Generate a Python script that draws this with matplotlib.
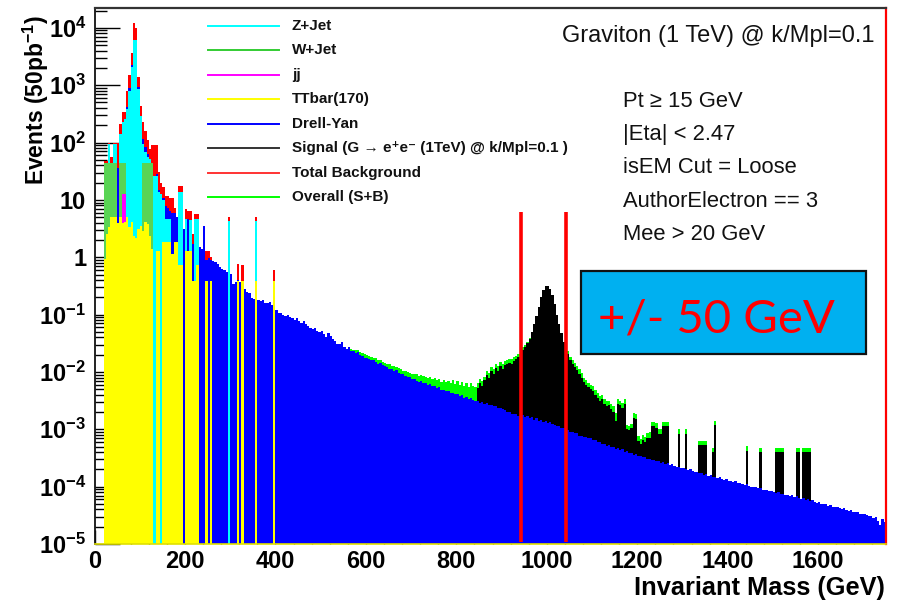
import numpy as np
import matplotlib
matplotlib.use("Agg")
import matplotlib.pyplot as plt
from matplotlib.lines import Line2D
from matplotlib.patches import Rectangle
from matplotlib.ticker import FixedLocator, FixedFormatter, MultipleLocator, NullFormatter

plt.rcParams["font.family"] = ["Liberation Sans", "DejaVu Sans"]
plt.rcParams["mathtext.fontset"] = "custom"
plt.rcParams["mathtext.rm"] = "Liberation Sans"
plt.rcParams["mathtext.bf"] = "Liberation Sans:bold"
plt.rcParams["mathtext.it"] = "Liberation Sans:italic"

# ---------------------------------------------------------------------------
# Binning: 5 GeV bins of invariant mass from 20 to 1750 GeV
# ---------------------------------------------------------------------------
BIN = 5
edges = np.arange(20, 1750 + BIN, BIN)
nbins = len(edges) - 1

# All series are log10(events / bin); None marks an empty bin.
# Values are the stacked heights as drawn (each includes what lies beneath).

TTBAR_START = 20
ttbar = [
    -0.03, 0.40, 0.52, 0.70, 0.70, 0.70, 0.60, 0.70, 0.60, 0.62,
    0.70, 0.52, 0.62, 0.37, 0.34, 0.50, 0.55, 0.45, 0.62, 0.58,
    0.37, 0.15, None, 0.11, 0.11, None, 0.26, 0.26, 0.26, 0.26,
    0.06, 0.26, 0.26, -0.13, -0.13, None, 0.11, 0.11, 0.11, -0.42,
    -0.42, -0.13, None, None, None, -0.41, None, -0.41, None, None,
    None, None, None, None, None, None, None, None, None, -0.41,
    None, -0.41, None, None, None, None, None, -0.41, None, None,
    None, None, None, None, None, -0.41,
]

JJ_START = 60
jj = [1.10, 1.10]

WJET_START = 20
wjet = [
    1.65, 1.65, 1.65, 1.65, 1.65, 1.65, None, 1.65, 1.65, 1.65,
    None, None, None, None, None, None, None,
    1.65, 1.65, 1.65, 1.65, 1.65,
]

ZJET_START = 30
zjet = [
    1.97, None, 1.97, 1.97, None, 2.15, 2.35, 2.41, 2.58, 2.90,
    3.31, 3.79, 3.79, 2.93, 2.47, 1.98, 1.83, 1.74, 1.72, 1.50,
    1.42, 1.42, 1.13, 1.10, 0.99, 0.67, 0.67, 0.67, None, None,
    None, 1.13, 1.13, None, 0.67, None, 0.65, None, 0.66, 0.66,
    None, None, None, None, None, None, None, None, None, None,
    None, None, None, 0.63, None, None, None, None, None, None,
    None, None, None, None, None, 0.63,
]

DY_START = 50
drell_yan = [
    1.55, None, None, None, 2.62, 2.95, 3.35, None, None, 2.97,
    None, 2.06, 1.92, 1.80, None, None, None, 1.45, 1.18, None,
    1.04, 0.90, 0.85, 0.80, 0.78, 0.78, 0.70, None, None, 0.50,
    None, 0.67, None, 0.23, None, None,
    0.17, 0.15, 0.55, -0.04, -0.02, -0.05, -0.06, -0.09, -0.11, -0.17,
    -0.20, -0.23, -0.25, -0.29, -0.30, -0.47, -0.44, -0.40, -0.43, -0.41,
    -0.56, -0.60, -0.63, -0.71, -0.72, -0.70, -0.75, -0.77, -0.75, -0.79,
    -0.80, -0.78, -0.83, -0.90, -0.92, -0.97, -0.98, -1.01, -1.02, -1.00,
    -1.05, -1.06, -1.09, -1.06, -1.11, -1.14, -1.11, -1.17, -1.20, -1.23,
    -1.25, -1.23, -1.29, -1.30, -1.28, -1.33, -1.39, -1.32, -1.37, -1.43,
    -1.46, -1.51, -1.52, -1.48, -1.56, -1.60, -1.57, -1.63, -1.64, -1.67,
    -1.66, -1.71, -1.72, -1.75, -1.75, -1.78, -1.80, -1.80, -1.83, -1.86,
    -1.84, -1.88, -1.90, -1.91, -1.94, -1.95, -1.98, -1.97, -2.01, -2.03,
    -2.04, -2.07, -2.08, -2.09, -2.13, -2.12, -2.15, -2.17, -2.16, -2.20,
    -2.20, -2.23, -2.21, -2.25, -2.25, -2.28, -2.27, -2.31, -2.31, -2.34,
    -2.33, -2.36, -2.37, -2.39, -2.38, -2.42, -2.41, -2.45, -2.44, -2.47,
    -2.46, -2.49, -2.50, -2.51, -2.54, -2.53, -2.56, -2.55, -2.58, -2.57,
    -2.60, -2.59, -2.63, -2.62, -2.65, -2.66, -2.69, -2.69, -2.73, -2.74,
    -2.73, -2.76, -2.77, -2.75, -2.79, -2.76, -2.81, -2.79, -2.84, -2.80,
    -2.86, -2.83, -2.87, -2.85, -2.89, -2.88, -2.91, -2.92, -2.94, -2.95,
    -2.97, -2.97, -3.01, -3.01, -3.04, -3.04, -3.07, -3.07, -3.11, -3.11,
    -3.14, -3.13, -3.16, -3.16, -3.19, -3.19, -3.23, -3.22, -3.26, -3.25,
    -3.29, -3.28, -3.31, -3.30, -3.34, -3.33, -3.36, -3.35, -3.39, -3.38,
    -3.41, -3.42, -3.44, -3.43, -3.46, -3.47, -3.49, -3.48, -3.52, -3.51,
    -3.53, -3.54, -3.56, -3.55, -3.58, -3.57, -3.60, -3.59, -3.62, -3.61,
    -3.64, -3.65, -3.66, -3.68, -3.67, -3.70, -3.71, -3.70, -3.73, -3.75,
    -3.74, -3.77, -3.76, -3.79, -3.78, -3.81, -3.80, -3.83, -3.84, -3.85,
    -3.84, -3.87, -3.88, -3.87, -3.90, -3.91, -3.92, -3.91, -3.94, -3.93,
    -3.96, -3.97, -3.96, -3.99, -4.00, -4.01, -4.00, -4.03, -4.02, -4.05,
    -4.06, -4.05, -4.08, -4.07, -4.10, -4.11, -4.10, -4.13, -4.12, -4.14,
    -4.15, -4.16, -4.15, -4.18, -4.17, -4.20, -4.21, -4.20, -4.23, -4.22,
    -4.25, -4.24, -4.27, -4.28, -4.27, -4.30, -4.31, -4.30, -4.33, -4.32,
    -4.35, -4.36, -4.35, -4.38, -4.39, -4.38, -4.41, -4.42, -4.41, -4.44,
    -4.45, -4.44, -4.47, -4.48, -4.47, -4.50, -4.52, -4.51, -4.55, -4.53,
    -4.60, -4.66, -4.56, -4.62,
]

SIGNAL_START = 845
signal = [
    -2.28, -2.20, -2.25, -2.14, -2.06, -2.10, -1.99, -2.03, -1.93, -1.98,
    -1.90, -1.95, -1.88, -1.86, -1.85, -1.86, -1.81, -1.78, -1.74, -1.67,
    -1.61, -1.57, -1.50, -1.42, -1.30, -1.16, -1.03, -0.86, -0.70, -0.57,
    -0.50, -0.50, -0.56, -0.66, -0.82, -1.00, -1.17, -1.32, -1.48, -1.60,
    -1.69, -1.80, -1.86, -1.92, -1.97, -2.03, -2.10, -2.18, -2.22, -2.27,
    -2.30, -2.33, -2.40, -2.45, -2.50, -2.47, -2.56, -2.59, -2.58, -2.65,
    -2.70, -2.85, -2.56, -2.58, -2.62, -2.56, -3.00, -3.02, -2.98, -2.80,
    -2.82, -3.20, -3.25, -3.18, -3.22, -3.15, -3.15, -2.95, -2.95, -2.97,
    -3.08, -3.08, -2.95, -2.95, -2.95, None, None, None, None, -3.08,
    None, None, -3.08, None, None, None, None, None, -3.28, -3.28,
    -3.28, -3.28, None, None, -3.40, -2.92, None, None, None, None,
    None, None, None, None, None, None, None, None, None, -3.37,
    None, None, None, None, None, -3.40, None, None, None, None,
    None, None, -3.40, -3.40, -3.40, -3.40, None, None, None, None,
    None, -3.40, -3.40, None, -3.40, -3.40, -3.40, -3.40,
]

OVERALL_START = 560
overall = [
    -1.57, -1.60, -1.61, -1.62, -1.62, -1.66, -1.67, -1.69, -1.71, -1.72,
    -1.74, -1.76, -1.76, -1.80, -1.80, -1.82, -1.84, -1.86, -1.86, -1.89,
    -1.90, -1.92, -1.93, -1.94, -1.98, -1.99, -2.00, -2.02, -2.03, -2.03,
    -2.04, -2.07, -2.05, -2.07, -2.09, -2.10, -2.08, -2.12, -2.10, -2.14,
    -2.12, -2.17, -2.14, -2.18, -2.15, -2.20, -2.14, -2.21, -2.16, -2.22,
    -2.18, -2.24, -2.19, -2.27, -2.20, -2.25, -2.27, -2.20, -2.12, -2.16,
    -2.08, -1.98, -2.02, -1.92, -1.95, -1.86, -1.90, -1.83, -1.87, -1.81,
    -1.79, -1.78, -1.78, -1.74, -1.72, -1.68, -1.61, -1.56, -1.53, -1.47,
    -1.40, None, None, None, None, None, None, None, None, None,
    None, None, None, None, None, None, None, -1.63, -1.74, -1.79,
    -1.85, -1.90, -1.95, -2.02, -2.10, -2.14, -2.19, -2.22, -2.25, -2.32,
    -2.37, -2.42, -2.40, -2.47, -2.50, -2.50, -2.56, -2.60, -2.72, -2.48,
    -2.50, -2.54, -2.48, -2.92, -2.94, -2.90, -2.72, -2.74, -3.12, -3.17,
    -3.10, -3.14, -3.06, -3.05, -2.88, -2.87, -2.89, -3.00, -3.00, -2.87,
    -2.87, -2.87, None, None, None, None, -3.00, None, None, -3.00,
    None, None, None, None, None, -3.20, -3.20, -3.20, -3.20, None,
    None, -3.32, -2.85, None, None, None, None, None, None, None,
    None, None, None, None, None, None, -3.29, None, None, None,
    None, None, -3.33, None, None, None, None, None, None, -3.33,
    -3.33, -3.33, -3.33, None, None, None, None, None, -3.33, -3.33,
    None, -3.33, -3.33, -3.33, -3.33,
]

TOTAL_START = 20
total_bg = [
    1.68, 1.68, 2.00, 1.74, 2.00, 2.00, 2.00, 2.32, 2.53, 2.53,
    2.90, 3.18, 3.57, 4.09, 4.00, 3.14, 2.64, 2.35, 2.20, 2.05,
    1.88, 1.95, 1.95, 1.95, 1.48, 1.30, 1.22, 1.07, 1.07, 1.04,
    1.04, 0.85, None, 1.25, 1.25, None, 0.84, 0.81, 0.81, 0.40,
    0.76, 0.76, None, None, None, 0.11, 0.11, 0.00, None, None,
    None, None, None, None, None, 0.70, None, None, None, -0.12,
    None, -0.14, None, None, None, None, None, 0.70, None, None,
    None, None, None, None, None, -0.23,
]

# Mass window drawn around the signal peak
window_center = 992
window_half = 50

# ---------------------------------------------------------------------------
FLOOR = 1e-9


def to_bins(start, logvals):
    h = np.full(nbins, FLOOR)
    i0 = (start - edges[0]) // BIN
    for k, v in enumerate(logvals):
        if v is not None:
            h[i0 + k] = 10.0 ** v
    return h


W, H = 898, 603
fig = plt.figure(figsize=(W / 100, H / 100), dpi=100)


def fx(x):
    return x / W


def fy(y):
    return 1 - y / H


ax = fig.add_axes([fx(94.5), fy(544), (886 - 94.5) / W, (544 - 8) / H])
ax.set_yscale("log")

layers = [
    (OVERALL_START, overall, "#00ff00"),
    (TOTAL_START, total_bg, "#ff0000"),
    (SIGNAL_START, signal, "#000000"),
    (DY_START, drell_yan, "#0000ff"),
    (ZJET_START, zjet, "#00ffff"),
    (WJET_START, wjet, "#59d454"),
    (JJ_START, jj, "#ff00ff"),
    (TTBAR_START, ttbar, "#ffff00"),
]
for z, (start, vals, col) in enumerate(layers):
    ax.stairs(to_bins(start, vals), edges, baseline=FLOOR, fill=True,
              color=col, linewidth=0, zorder=3 + 0.1 * z)

ax.set_xlim(0, 1750)
ax.set_ylim(1e-5, 10 ** 4.346)

# y axis: decades with ROOT-like labels
ydec = [10.0 ** k for k in range(-5, 5)]
ylab = [r"$\mathbf{10^{%d}}$" % k for k in range(-5, 0)] + ["1", "10"] + \
       [r"$\mathbf{10^{%d}}$" % k for k in range(2, 5)]
ax.yaxis.set_major_locator(FixedLocator(ydec))
ax.yaxis.set_major_formatter(FixedFormatter(ylab))
yminor = [m * 10.0 ** k for k in range(-5, 5) for m in range(2, 10)]
ax.yaxis.set_minor_locator(FixedLocator(yminor))
ax.yaxis.set_minor_formatter(NullFormatter())

ax.xaxis.set_major_locator(MultipleLocator(200))
ax.xaxis.set_minor_locator(MultipleLocator(40))

ax.tick_params(axis="y", which="major", direction="in", length=18, width=1.0,
               labelsize=17, pad=6, right=False)
ax.tick_params(axis="y", which="minor", direction="in", length=8.5, width=1.0,
               right=False)
ax.tick_params(axis="x", which="major", direction="in", length=10, width=1.0,
               labelsize=17, pad=4, top=False)
ax.tick_params(axis="x", which="minor", direction="in", length=5, width=1.0,
               top=False)
for lab in ax.get_xticklabels() + ax.get_yticklabels():
    lab.set_fontweight("bold")

for side, col, lw in [("left", "#111111", 1.3), ("top", "#333333", 1.6),
                      ("right", "#ff0000", 1.6), ("bottom", "#e0e000", 1.2)]:
    ax.spines[side].set_color(col)
    ax.spines[side].set_linewidth(lw)
    ax.spines[side].set_zorder(20)

# mass window markers
ax.vlines([window_center - window_half, window_center + window_half],
          1.08e-5, 6.2, colors="#ff0000", linewidth=2.6, zorder=30)

# axis titles
fig.text(fx(36), fy(15), r"Events (50pb$^{\mathbf{-1}}$)", rotation=90,
         ha="center", va="top", fontsize=16.5, fontweight="bold")
fig.text(fx(885), fy(595), "Invariant Mass (GeV)", ha="right", va="baseline",
         fontsize=18.3, fontweight="bold")

# legend
legend_rows = [
    ("Z+Jet", "#00ffff"),
    ("W+Jet", "#33cc33"),
    ("jj", "#ff00ff"),
    ("TTbar(170)", "#ffff00"),
    ("Drell-Yan", "#0000ff"),
    ("Signal (G \u2192 e\u207ae\u207b (1TeV) @ k/Mpl=0.1 )", "#333333"),
    ("Total Background", "#ff3333"),
    ("Overall (S+B)", "#00ff00"),
]
for k, (text, col) in enumerate(legend_rows):
    yc = 25.8 + 24.5 * k
    fig.add_artist(Line2D([fx(208), fx(279)], [fy(yc), fy(yc)], color=col,
                          linewidth=1.4, transform=fig.transFigure, zorder=40))
    fig.text(fx(292), fy(yc), text, ha="left", va="center", fontsize=11,
             fontweight="bold", color="#111111", zorder=40)

# selection text
fig.text(fx(562), fy(41.7), "Graviton (1 TeV) @ k/Mpl=0.1", ha="left",
         va="baseline", fontsize=17, color="#111111")
cuts = ["Pt \u2265 15 GeV", "|Eta| < 2.47", "isEM Cut = Loose",
        "AuthorElectron == 3", "Mee > 20 GeV"]
for k, c in enumerate(cuts):
    fig.text(fx(623), fy(106.7 + 33.3 * k), c, ha="left", va="baseline",
             fontsize=15.8, color="#111111")

# window annotation box
fig.add_artist(Rectangle((fx(581), fy(354)), (866 - 581) / W, (354 - 271) / H,
                         transform=fig.transFigure, facecolor="#00b0f0",
                         edgecolor="#111111", linewidth=1.6, zorder=45))
fig.text(fx(716), fy(332), "+/- %d GeV" % window_half, ha="center",
         va="baseline", fontsize=34, color="#ff0000",
         family=["Lato", "DejaVu Sans"], zorder=50)

fig.savefig("out.png", dpi=100, facecolor="white")
